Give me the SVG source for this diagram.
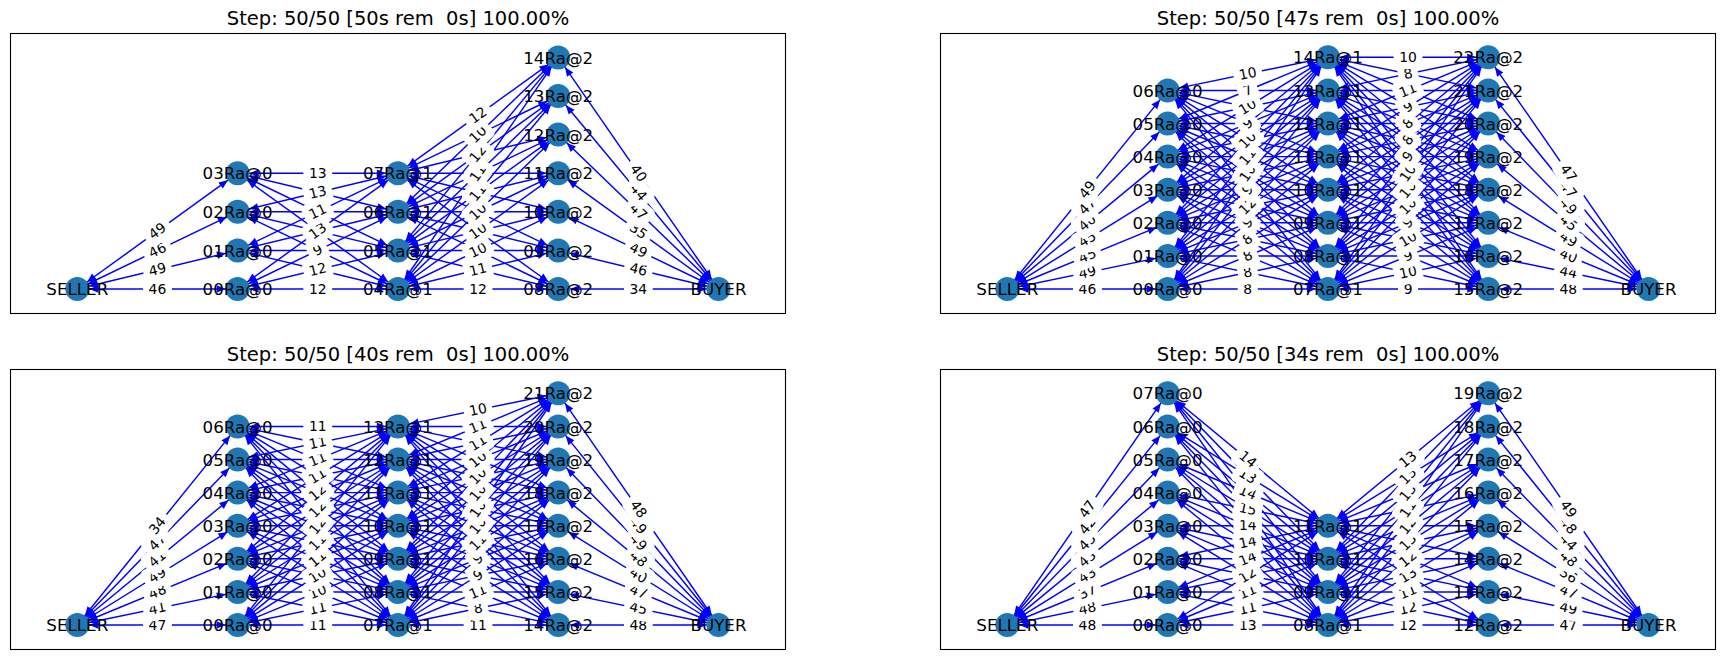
<svg xmlns="http://www.w3.org/2000/svg" xmlns:xlink="http://www.w3.org/1999/xlink" width="1725" height="659" viewBox="0 0 1725 659">
<style>
.t{font-family:"DejaVu Sans",sans-serif;font-size:19.5px;text-anchor:middle;fill:#000}
.e path{fill:none;stroke:#00f;stroke-width:1.45;marker-start:url(#ah);marker-end:url(#ah)}
.n circle{fill:#1f78b4}
.n text{font-family:"DejaVu Sans",sans-serif;font-size:16.7px;text-anchor:middle;fill:#000}
.l text{font-family:"DejaVu Sans",sans-serif;font-size:13.9px;text-anchor:middle;fill:#000}
.f{fill:none;stroke:#000;stroke-width:1.1}
</style>
<defs>
<marker id="ah" viewBox="-12 -6 26 12" refX="12" refY="0" markerWidth="26" markerHeight="12" markerUnits="userSpaceOnUse" orient="auto-start-reverse" overflow="visible"><path d="M0,0 L-9,-3.8 L-9,3.8 z" fill="#00f"/></marker>
<rect id="b2" x="-13.7" y="-11" width="27.4" height="22" rx="4" fill="#fff" stroke="#fff" stroke-width="1.4"/>
<rect id="b1" x="-9.3" y="-11" width="18.6" height="22" rx="4" fill="#fff" stroke="#fff" stroke-width="1.4"/>
</defs>
<rect width="1725" height="659" fill="#fff"/>

<!-- ===== Panel 1 ===== -->
<g id="panel1">
<text class="t" x="398" y="25" xml:space="preserve">Step: 50/50 [50s rem  0s] 100.00%</text>
<g id="p1-edges" class="e">
<path d="M77.3 289L237.6 289"/><path d="M77.3 289L237.6 250.4"/><path d="M77.3 289L237.6 211.8"/><path d="M77.3 289L237.6 173.2"/>
<path d="M237.6 289L397.9 289"/><path d="M237.6 289L397.9 250.4"/><path d="M237.6 289L397.9 211.8"/><path d="M237.6 289L397.9 173.2"/>
<path d="M237.6 250.4L397.9 289"/><path d="M237.6 250.4L397.9 250.4"/><path d="M237.6 250.4L397.9 211.8"/><path d="M237.6 250.4L397.9 173.2"/>
<path d="M237.6 211.8L397.9 289"/><path d="M237.6 211.8L397.9 250.4"/><path d="M237.6 211.8L397.9 211.8"/><path d="M237.6 211.8L397.9 173.2"/>
<path d="M237.6 173.2L397.9 289"/><path d="M237.6 173.2L397.9 250.4"/><path d="M237.6 173.2L397.9 211.8"/><path d="M237.6 173.2L397.9 173.2"/>
<path d="M397.9 289L558.2 289"/><path d="M397.9 289L558.2 250.4"/><path d="M397.9 289L558.2 211.8"/><path d="M397.9 289L558.2 173.2"/><path d="M397.9 289L558.2 134.6"/><path d="M397.9 289L558.2 96"/><path d="M397.9 289L558.2 57.4"/>
<path d="M397.9 250.4L558.2 289"/><path d="M397.9 250.4L558.2 250.4"/><path d="M397.9 250.4L558.2 211.8"/><path d="M397.9 250.4L558.2 173.2"/><path d="M397.9 250.4L558.2 134.6"/><path d="M397.9 250.4L558.2 96"/><path d="M397.9 250.4L558.2 57.4"/>
<path d="M397.9 211.8L558.2 289"/><path d="M397.9 211.8L558.2 250.4"/><path d="M397.9 211.8L558.2 211.8"/><path d="M397.9 211.8L558.2 173.2"/><path d="M397.9 211.8L558.2 134.6"/><path d="M397.9 211.8L558.2 96"/><path d="M397.9 211.8L558.2 57.4"/>
<path d="M397.9 173.2L558.2 289"/><path d="M397.9 173.2L558.2 250.4"/><path d="M397.9 173.2L558.2 211.8"/><path d="M397.9 173.2L558.2 173.2"/><path d="M397.9 173.2L558.2 134.6"/><path d="M397.9 173.2L558.2 96"/><path d="M397.9 173.2L558.2 57.4"/>
<path d="M558.2 289L718.5 289"/><path d="M558.2 250.4L718.5 289"/><path d="M558.2 211.8L718.5 289"/><path d="M558.2 173.2L718.5 289"/><path d="M558.2 134.6L718.5 289"/><path d="M558.2 96L718.5 289"/><path d="M558.2 57.4L718.5 289"/>
</g>
<g id="p1-SELLER" class="n"><circle cx="77.3" cy="289" r="12"/><text x="77.3" y="295.1">SELLER</text></g>
<g id="p1-00" class="n"><circle cx="237.6" cy="289" r="12"/><text x="237.6" y="295.1">00Ra@0</text></g>
<g id="p1-01" class="n"><circle cx="237.6" cy="250.4" r="12"/><text x="237.6" y="256.5">01Ra@0</text></g>
<g id="p1-02" class="n"><circle cx="237.6" cy="211.8" r="12"/><text x="237.6" y="217.9">02Ra@0</text></g>
<g id="p1-03" class="n"><circle cx="237.6" cy="173.2" r="12"/><text x="237.6" y="179.3">03Ra@0</text></g>
<g id="p1-04" class="n"><circle cx="397.9" cy="289" r="12"/><text x="397.9" y="295.1">04Ra@1</text></g>
<g id="p1-05" class="n"><circle cx="397.9" cy="250.4" r="12"/><text x="397.9" y="256.5">05Ra@1</text></g>
<g id="p1-06" class="n"><circle cx="397.9" cy="211.8" r="12"/><text x="397.9" y="217.9">06Ra@1</text></g>
<g id="p1-07" class="n"><circle cx="397.9" cy="173.2" r="12"/><text x="397.9" y="179.3">07Ra@1</text></g>
<g id="p1-08" class="n"><circle cx="558.2" cy="289" r="12"/><text x="558.2" y="295.1">08Ra@2</text></g>
<g id="p1-09" class="n"><circle cx="558.2" cy="250.4" r="12"/><text x="558.2" y="256.5">09Ra@2</text></g>
<g id="p1-10" class="n"><circle cx="558.2" cy="211.8" r="12"/><text x="558.2" y="217.9">10Ra@2</text></g>
<g id="p1-11" class="n"><circle cx="558.2" cy="173.2" r="12"/><text x="558.2" y="179.3">11Ra@2</text></g>
<g id="p1-12" class="n"><circle cx="558.2" cy="134.6" r="12"/><text x="558.2" y="140.7">12Ra@2</text></g>
<g id="p1-13" class="n"><circle cx="558.2" cy="96" r="12"/><text x="558.2" y="102.1">13Ra@2</text></g>
<g id="p1-14" class="n"><circle cx="558.2" cy="57.4" r="12"/><text x="558.2" y="63.5">14Ra@2</text></g>
<g id="p1-BUYER" class="n"><circle cx="718.5" cy="289" r="12"/><text x="718.5" y="295.1">BUYER</text></g>
<g id="p1-labels" class="l">
<g transform="translate(157.45 289)"><use href="#b2"/><text y="4.5">46</text></g>
<g transform="translate(157.45 269.7) rotate(-13.54)"><use href="#b2"/><text y="4.5">49</text></g>
<g transform="translate(157.45 250.4) rotate(-25.71)"><use href="#b2"/><text y="4.5">46</text></g>
<g transform="translate(157.45 231.1) rotate(-35.84)"><use href="#b2"/><text y="4.5">49</text></g>
<g transform="translate(317.75 289)"><use href="#b2"/><text y="4.5">12</text></g>
<g transform="translate(317.75 269.7) rotate(-13.54)"><use href="#b2"/><text y="4.5">12</text></g>
<g transform="translate(317.75 250.4) rotate(-25.71)"><use href="#b1"/><text y="4.5">9</text></g>
<g transform="translate(317.75 231.1) rotate(-35.84)"><use href="#b2"/><text y="4.5">13</text></g>
<g transform="translate(317.75 211.8) rotate(-25.71)"><use href="#b2"/><text y="4.5">11</text></g>
<g transform="translate(317.75 192.5) rotate(-13.54)"><use href="#b2"/><text y="4.5">13</text></g>
<g transform="translate(317.75 173.2)"><use href="#b2"/><text y="4.5">13</text></g>
<g transform="translate(478.05 289)"><use href="#b2"/><text y="4.5">12</text></g>
<g transform="translate(478.05 269.7) rotate(-13.54)"><use href="#b2"/><text y="4.5">11</text></g>
<g transform="translate(478.05 250.4) rotate(-25.71)"><use href="#b2"/><text y="4.5">10</text></g>
<g transform="translate(478.05 231.1) rotate(-35.84)"><use href="#b2"/><text y="4.5">10</text></g>
<g transform="translate(478.05 211.8) rotate(-43.93)"><use href="#b2"/><text y="4.5">10</text></g>
<g transform="translate(478.05 192.5) rotate(-50.29)"><use href="#b2"/><text y="4.5">11</text></g>
<g transform="translate(478.05 173.2) rotate(-55.32)"><use href="#b2"/><text y="4.5">11</text></g>
<g transform="translate(478.05 153.9) rotate(-50.29)"><use href="#b2"/><text y="4.5">12</text></g>
<g transform="translate(478.05 134.6) rotate(-43.93)"><use href="#b2"/><text y="4.5">10</text></g>
<g transform="translate(478.05 115.3) rotate(-35.84)"><use href="#b2"/><text y="4.5">12</text></g>
<g transform="translate(638.35 289)"><use href="#b2"/><text y="4.5">34</text></g>
<g transform="translate(638.35 269.7) rotate(13.54)"><use href="#b2"/><text y="4.5">46</text></g>
<g transform="translate(638.35 250.4) rotate(25.71)"><use href="#b2"/><text y="4.5">49</text></g>
<g transform="translate(638.35 231.1) rotate(35.84)"><use href="#b2"/><text y="4.5">35</text></g>
<g transform="translate(638.35 211.8) rotate(43.93)"><use href="#b2"/><text y="4.5">47</text></g>
<g transform="translate(638.35 192.5) rotate(50.29)"><use href="#b2"/><text y="4.5">44</text></g>
<g transform="translate(638.35 173.2) rotate(55.32)"><use href="#b2"/><text y="4.5">40</text></g>
</g>
<rect class="f" x="10.5" y="33.5" width="775" height="280"/>
</g>

<!-- ===== Panel 2 ===== -->
<g id="panel2" transform="translate(930 0)">
<text class="t" x="398" y="25" xml:space="preserve">Step: 50/50 [47s rem  0s] 100.00%</text>
<g id="p2-edges" class="e">
<path d="M77.3 289L237.6 289"/><path d="M77.3 289L237.6 255.9"/><path d="M77.3 289L237.6 222.8"/><path d="M77.3 289L237.6 189.7"/><path d="M77.3 289L237.6 156.6"/><path d="M77.3 289L237.6 123.5"/><path d="M77.3 289L237.6 90.4"/>
<path d="M237.6 289L397.9 289"/><path d="M237.6 289L397.9 255.9"/><path d="M237.6 289L397.9 222.8"/><path d="M237.6 289L397.9 189.7"/><path d="M237.6 289L397.9 156.6"/><path d="M237.6 289L397.9 123.5"/><path d="M237.6 289L397.9 90.4"/><path d="M237.6 289L397.9 57.3"/>
<path d="M237.6 255.9L397.9 289"/><path d="M237.6 255.9L397.9 255.9"/><path d="M237.6 255.9L397.9 222.8"/><path d="M237.6 255.9L397.9 189.7"/><path d="M237.6 255.9L397.9 156.6"/><path d="M237.6 255.9L397.9 123.5"/><path d="M237.6 255.9L397.9 90.4"/><path d="M237.6 255.9L397.9 57.3"/>
<path d="M237.6 222.8L397.9 289"/><path d="M237.6 222.8L397.9 255.9"/><path d="M237.6 222.8L397.9 222.8"/><path d="M237.6 222.8L397.9 189.7"/><path d="M237.6 222.8L397.9 156.6"/><path d="M237.6 222.8L397.9 123.5"/><path d="M237.6 222.8L397.9 90.4"/><path d="M237.6 222.8L397.9 57.3"/>
<path d="M237.6 189.7L397.9 289"/><path d="M237.6 189.7L397.9 255.9"/><path d="M237.6 189.7L397.9 222.8"/><path d="M237.6 189.7L397.9 189.7"/><path d="M237.6 189.7L397.9 156.6"/><path d="M237.6 189.7L397.9 123.5"/><path d="M237.6 189.7L397.9 90.4"/><path d="M237.6 189.7L397.9 57.3"/>
<path d="M237.6 156.6L397.9 289"/><path d="M237.6 156.6L397.9 255.9"/><path d="M237.6 156.6L397.9 222.8"/><path d="M237.6 156.6L397.9 189.7"/><path d="M237.6 156.6L397.9 156.6"/><path d="M237.6 156.6L397.9 123.5"/><path d="M237.6 156.6L397.9 90.4"/><path d="M237.6 156.6L397.9 57.3"/>
<path d="M237.6 123.5L397.9 289"/><path d="M237.6 123.5L397.9 255.9"/><path d="M237.6 123.5L397.9 222.8"/><path d="M237.6 123.5L397.9 189.7"/><path d="M237.6 123.5L397.9 156.6"/><path d="M237.6 123.5L397.9 123.5"/><path d="M237.6 123.5L397.9 90.4"/><path d="M237.6 123.5L397.9 57.3"/>
<path d="M237.6 90.4L397.9 289"/><path d="M237.6 90.4L397.9 255.9"/><path d="M237.6 90.4L397.9 222.8"/><path d="M237.6 90.4L397.9 189.7"/><path d="M237.6 90.4L397.9 156.6"/><path d="M237.6 90.4L397.9 123.5"/><path d="M237.6 90.4L397.9 90.4"/><path d="M237.6 90.4L397.9 57.3"/>
<path d="M397.9 289L558.2 289"/><path d="M397.9 289L558.2 255.9"/><path d="M397.9 289L558.2 222.8"/><path d="M397.9 289L558.2 189.7"/><path d="M397.9 289L558.2 156.6"/><path d="M397.9 289L558.2 123.5"/><path d="M397.9 289L558.2 90.4"/><path d="M397.9 289L558.2 57.3"/>
<path d="M397.9 255.9L558.2 289"/><path d="M397.9 255.9L558.2 255.9"/><path d="M397.9 255.9L558.2 222.8"/><path d="M397.9 255.9L558.2 189.7"/><path d="M397.9 255.9L558.2 156.6"/><path d="M397.9 255.9L558.2 123.5"/><path d="M397.9 255.9L558.2 90.4"/><path d="M397.9 255.9L558.2 57.3"/>
<path d="M397.9 222.8L558.2 289"/><path d="M397.9 222.8L558.2 255.9"/><path d="M397.9 222.8L558.2 222.8"/><path d="M397.9 222.8L558.2 189.7"/><path d="M397.9 222.8L558.2 156.6"/><path d="M397.9 222.8L558.2 123.5"/><path d="M397.9 222.8L558.2 90.4"/><path d="M397.9 222.8L558.2 57.3"/>
<path d="M397.9 189.7L558.2 289"/><path d="M397.9 189.7L558.2 255.9"/><path d="M397.9 189.7L558.2 222.8"/><path d="M397.9 189.7L558.2 189.7"/><path d="M397.9 189.7L558.2 156.6"/><path d="M397.9 189.7L558.2 123.5"/><path d="M397.9 189.7L558.2 90.4"/><path d="M397.9 189.7L558.2 57.3"/>
<path d="M397.9 156.6L558.2 289"/><path d="M397.9 156.6L558.2 255.9"/><path d="M397.9 156.6L558.2 222.8"/><path d="M397.9 156.6L558.2 189.7"/><path d="M397.9 156.6L558.2 156.6"/><path d="M397.9 156.6L558.2 123.5"/><path d="M397.9 156.6L558.2 90.4"/><path d="M397.9 156.6L558.2 57.3"/>
<path d="M397.9 123.5L558.2 289"/><path d="M397.9 123.5L558.2 255.9"/><path d="M397.9 123.5L558.2 222.8"/><path d="M397.9 123.5L558.2 189.7"/><path d="M397.9 123.5L558.2 156.6"/><path d="M397.9 123.5L558.2 123.5"/><path d="M397.9 123.5L558.2 90.4"/><path d="M397.9 123.5L558.2 57.3"/>
<path d="M397.9 90.4L558.2 289"/><path d="M397.9 90.4L558.2 255.9"/><path d="M397.9 90.4L558.2 222.8"/><path d="M397.9 90.4L558.2 189.7"/><path d="M397.9 90.4L558.2 156.6"/><path d="M397.9 90.4L558.2 123.5"/><path d="M397.9 90.4L558.2 90.4"/><path d="M397.9 90.4L558.2 57.3"/>
<path d="M397.9 57.3L558.2 289"/><path d="M397.9 57.3L558.2 255.9"/><path d="M397.9 57.3L558.2 222.8"/><path d="M397.9 57.3L558.2 189.7"/><path d="M397.9 57.3L558.2 156.6"/><path d="M397.9 57.3L558.2 123.5"/><path d="M397.9 57.3L558.2 90.4"/><path d="M397.9 57.3L558.2 57.3"/>
<path d="M558.2 289L718.5 289"/><path d="M558.2 255.9L718.5 289"/><path d="M558.2 222.8L718.5 289"/><path d="M558.2 189.7L718.5 289"/><path d="M558.2 156.6L718.5 289"/><path d="M558.2 123.5L718.5 289"/><path d="M558.2 90.4L718.5 289"/><path d="M558.2 57.3L718.5 289"/>
</g>
<g id="p2-SELLER" class="n"><circle cx="77.3" cy="289" r="12"/><text x="77.3" y="295.1">SELLER</text></g>
<g id="p2-00" class="n"><circle cx="237.6" cy="289" r="12"/><text x="237.6" y="295.1">00Ra@0</text></g>
<g id="p2-01" class="n"><circle cx="237.6" cy="255.9" r="12"/><text x="237.6" y="262">01Ra@0</text></g>
<g id="p2-02" class="n"><circle cx="237.6" cy="222.8" r="12"/><text x="237.6" y="228.9">02Ra@0</text></g>
<g id="p2-03" class="n"><circle cx="237.6" cy="189.7" r="12"/><text x="237.6" y="195.8">03Ra@0</text></g>
<g id="p2-04" class="n"><circle cx="237.6" cy="156.6" r="12"/><text x="237.6" y="162.7">04Ra@0</text></g>
<g id="p2-05" class="n"><circle cx="237.6" cy="123.5" r="12"/><text x="237.6" y="129.6">05Ra@0</text></g>
<g id="p2-06" class="n"><circle cx="237.6" cy="90.4" r="12"/><text x="237.6" y="96.5">06Ra@0</text></g>
<g id="p2-07" class="n"><circle cx="397.9" cy="289" r="12"/><text x="397.9" y="295.1">07Ra@1</text></g>
<g id="p2-08" class="n"><circle cx="397.9" cy="255.9" r="12"/><text x="397.9" y="262">08Ra@1</text></g>
<g id="p2-09" class="n"><circle cx="397.9" cy="222.8" r="12"/><text x="397.9" y="228.9">09Ra@1</text></g>
<g id="p2-10" class="n"><circle cx="397.9" cy="189.7" r="12"/><text x="397.9" y="195.8">10Ra@1</text></g>
<g id="p2-11" class="n"><circle cx="397.9" cy="156.6" r="12"/><text x="397.9" y="162.7">11Ra@1</text></g>
<g id="p2-12" class="n"><circle cx="397.9" cy="123.5" r="12"/><text x="397.9" y="129.6">12Ra@1</text></g>
<g id="p2-13" class="n"><circle cx="397.9" cy="90.4" r="12"/><text x="397.9" y="96.5">13Ra@1</text></g>
<g id="p2-14" class="n"><circle cx="397.9" cy="57.3" r="12"/><text x="397.9" y="63.4">14Ra@1</text></g>
<g id="p2-15" class="n"><circle cx="558.2" cy="289" r="12"/><text x="558.2" y="295.1">15Ra@2</text></g>
<g id="p2-16" class="n"><circle cx="558.2" cy="255.9" r="12"/><text x="558.2" y="262">16Ra@2</text></g>
<g id="p2-17" class="n"><circle cx="558.2" cy="222.8" r="12"/><text x="558.2" y="228.9">17Ra@2</text></g>
<g id="p2-18" class="n"><circle cx="558.2" cy="189.7" r="12"/><text x="558.2" y="195.8">18Ra@2</text></g>
<g id="p2-19" class="n"><circle cx="558.2" cy="156.6" r="12"/><text x="558.2" y="162.7">19Ra@2</text></g>
<g id="p2-20" class="n"><circle cx="558.2" cy="123.5" r="12"/><text x="558.2" y="129.6">20Ra@2</text></g>
<g id="p2-21" class="n"><circle cx="558.2" cy="90.4" r="12"/><text x="558.2" y="96.5">21Ra@2</text></g>
<g id="p2-22" class="n"><circle cx="558.2" cy="57.3" r="12"/><text x="558.2" y="63.4">22Ra@2</text></g>
<g id="p2-BUYER" class="n"><circle cx="718.5" cy="289" r="12"/><text x="718.5" y="295.1">BUYER</text></g>
<g id="p2-labels" class="l">
<g transform="translate(157.45 289)"><use href="#b2"/><text y="4.5">46</text></g>
<g transform="translate(157.45 272.45) rotate(-11.67)"><use href="#b2"/><text y="4.5">49</text></g>
<g transform="translate(157.45 255.9) rotate(-22.44)"><use href="#b2"/><text y="4.5">45</text></g>
<g transform="translate(157.45 239.35) rotate(-31.78)"><use href="#b2"/><text y="4.5">45</text></g>
<g transform="translate(157.45 222.8) rotate(-39.56)"><use href="#b2"/><text y="4.5">40</text></g>
<g transform="translate(157.45 206.25) rotate(-45.92)"><use href="#b2"/><text y="4.5">47</text></g>
<g transform="translate(157.45 189.7) rotate(-51.09)"><use href="#b2"/><text y="4.5">49</text></g>
<g transform="translate(317.75 289)"><use href="#b1"/><text y="4.5">8</text></g>
<g transform="translate(317.75 272.45) rotate(-11.67)"><use href="#b1"/><text y="4.5">8</text></g>
<g transform="translate(317.75 255.9) rotate(-22.44)"><use href="#b1"/><text y="4.5">8</text></g>
<g transform="translate(317.75 239.35) rotate(-31.78)"><use href="#b1"/><text y="4.5">8</text></g>
<g transform="translate(317.75 222.8) rotate(-39.56)"><use href="#b1"/><text y="4.5">9</text></g>
<g transform="translate(317.75 206.25) rotate(-45.92)"><use href="#b2"/><text y="4.5">12</text></g>
<g transform="translate(317.75 189.7) rotate(-51.09)"><use href="#b1"/><text y="4.5">9</text></g>
<g transform="translate(317.75 173.15) rotate(-55.32)"><use href="#b2"/><text y="4.5">10</text></g>
<g transform="translate(317.75 156.6) rotate(-51.09)"><use href="#b2"/><text y="4.5">11</text></g>
<g transform="translate(317.75 140.05) rotate(-45.92)"><use href="#b2"/><text y="4.5">10</text></g>
<g transform="translate(317.75 123.5) rotate(-39.56)"><use href="#b1"/><text y="4.5">9</text></g>
<g transform="translate(317.75 106.95) rotate(-31.78)"><use href="#b2"/><text y="4.5">10</text></g>
<g transform="translate(317.75 90.4) rotate(-22.44)"><use href="#b1"/><text y="4.5">7</text></g>
<g transform="translate(317.75 73.85) rotate(-11.67)"><use href="#b2"/><text y="4.5">10</text></g>
<g transform="translate(478.05 289)"><use href="#b1"/><text y="4.5">9</text></g>
<g transform="translate(478.05 272.45) rotate(-11.67)"><use href="#b2"/><text y="4.5">10</text></g>
<g transform="translate(478.05 255.9) rotate(-22.44)"><use href="#b1"/><text y="4.5">9</text></g>
<g transform="translate(478.05 239.35) rotate(-31.78)"><use href="#b2"/><text y="4.5">10</text></g>
<g transform="translate(478.05 222.8) rotate(-39.56)"><use href="#b1"/><text y="4.5">9</text></g>
<g transform="translate(478.05 206.25) rotate(-45.92)"><use href="#b2"/><text y="4.5">10</text></g>
<g transform="translate(478.05 189.7) rotate(-51.09)"><use href="#b2"/><text y="4.5">10</text></g>
<g transform="translate(478.05 173.15) rotate(-55.32)"><use href="#b2"/><text y="4.5">10</text></g>
<g transform="translate(478.05 156.6) rotate(-51.09)"><use href="#b1"/><text y="4.5">9</text></g>
<g transform="translate(478.05 140.05) rotate(-45.92)"><use href="#b1"/><text y="4.5">8</text></g>
<g transform="translate(478.05 123.5) rotate(-39.56)"><use href="#b1"/><text y="4.5">8</text></g>
<g transform="translate(478.05 106.95) rotate(-31.78)"><use href="#b1"/><text y="4.5">9</text></g>
<g transform="translate(478.05 90.4) rotate(-22.44)"><use href="#b2"/><text y="4.5">11</text></g>
<g transform="translate(478.05 73.85) rotate(-11.67)"><use href="#b1"/><text y="4.5">8</text></g>
<g transform="translate(478.05 57.3)"><use href="#b2"/><text y="4.5">10</text></g>
<g transform="translate(638.35 289)"><use href="#b2"/><text y="4.5">48</text></g>
<g transform="translate(638.35 272.45) rotate(11.67)"><use href="#b2"/><text y="4.5">44</text></g>
<g transform="translate(638.35 255.9) rotate(22.44)"><use href="#b2"/><text y="4.5">40</text></g>
<g transform="translate(638.35 239.35) rotate(31.78)"><use href="#b2"/><text y="4.5">49</text></g>
<g transform="translate(638.35 222.8) rotate(39.56)"><use href="#b2"/><text y="4.5">45</text></g>
<g transform="translate(638.35 206.25) rotate(45.92)"><use href="#b2"/><text y="4.5">49</text></g>
<g transform="translate(638.35 189.7) rotate(51.09)"><use href="#b2"/><text y="4.5">47</text></g>
<g transform="translate(638.35 173.15) rotate(55.32)"><use href="#b2"/><text y="4.5">47</text></g>
</g>
<rect class="f" x="10.5" y="33.5" width="775" height="280"/>
</g>

<!-- ===== Panel 3 ===== -->
<g id="panel3" transform="translate(0 336)">
<text class="t" x="398" y="25" xml:space="preserve">Step: 50/50 [40s rem  0s] 100.00%</text>
<g id="p3-edges" class="e">
<path d="M77.3 289L237.6 289"/><path d="M77.3 289L237.6 255.9"/><path d="M77.3 289L237.6 222.8"/><path d="M77.3 289L237.6 189.7"/><path d="M77.3 289L237.6 156.6"/><path d="M77.3 289L237.6 123.5"/><path d="M77.3 289L237.6 90.4"/>
<path d="M237.6 289L397.9 289"/><path d="M237.6 289L397.9 255.9"/><path d="M237.6 289L397.9 222.8"/><path d="M237.6 289L397.9 189.7"/><path d="M237.6 289L397.9 156.6"/><path d="M237.6 289L397.9 123.5"/><path d="M237.6 289L397.9 90.4"/>
<path d="M237.6 255.9L397.9 289"/><path d="M237.6 255.9L397.9 255.9"/><path d="M237.6 255.9L397.9 222.8"/><path d="M237.6 255.9L397.9 189.7"/><path d="M237.6 255.9L397.9 156.6"/><path d="M237.6 255.9L397.9 123.5"/><path d="M237.6 255.9L397.9 90.4"/>
<path d="M237.6 222.8L397.9 289"/><path d="M237.6 222.8L397.9 255.9"/><path d="M237.6 222.8L397.9 222.8"/><path d="M237.6 222.8L397.9 189.7"/><path d="M237.6 222.8L397.9 156.6"/><path d="M237.6 222.8L397.9 123.5"/><path d="M237.6 222.8L397.9 90.4"/>
<path d="M237.6 189.7L397.9 289"/><path d="M237.6 189.7L397.9 255.9"/><path d="M237.6 189.7L397.9 222.8"/><path d="M237.6 189.7L397.9 189.7"/><path d="M237.6 189.7L397.9 156.6"/><path d="M237.6 189.7L397.9 123.5"/><path d="M237.6 189.7L397.9 90.4"/>
<path d="M237.6 156.6L397.9 289"/><path d="M237.6 156.6L397.9 255.9"/><path d="M237.6 156.6L397.9 222.8"/><path d="M237.6 156.6L397.9 189.7"/><path d="M237.6 156.6L397.9 156.6"/><path d="M237.6 156.6L397.9 123.5"/><path d="M237.6 156.6L397.9 90.4"/>
<path d="M237.6 123.5L397.9 289"/><path d="M237.6 123.5L397.9 255.9"/><path d="M237.6 123.5L397.9 222.8"/><path d="M237.6 123.5L397.9 189.7"/><path d="M237.6 123.5L397.9 156.6"/><path d="M237.6 123.5L397.9 123.5"/><path d="M237.6 123.5L397.9 90.4"/>
<path d="M237.6 90.4L397.9 289"/><path d="M237.6 90.4L397.9 255.9"/><path d="M237.6 90.4L397.9 222.8"/><path d="M237.6 90.4L397.9 189.7"/><path d="M237.6 90.4L397.9 156.6"/><path d="M237.6 90.4L397.9 123.5"/><path d="M237.6 90.4L397.9 90.4"/>
<path d="M397.9 289L558.2 289"/><path d="M397.9 289L558.2 255.9"/><path d="M397.9 289L558.2 222.8"/><path d="M397.9 289L558.2 189.7"/><path d="M397.9 289L558.2 156.6"/><path d="M397.9 289L558.2 123.5"/><path d="M397.9 289L558.2 90.4"/><path d="M397.9 289L558.2 57.3"/>
<path d="M397.9 255.9L558.2 289"/><path d="M397.9 255.9L558.2 255.9"/><path d="M397.9 255.9L558.2 222.8"/><path d="M397.9 255.9L558.2 189.7"/><path d="M397.9 255.9L558.2 156.6"/><path d="M397.9 255.9L558.2 123.5"/><path d="M397.9 255.9L558.2 90.4"/><path d="M397.9 255.9L558.2 57.3"/>
<path d="M397.9 222.8L558.2 289"/><path d="M397.9 222.8L558.2 255.9"/><path d="M397.9 222.8L558.2 222.8"/><path d="M397.9 222.8L558.2 189.7"/><path d="M397.9 222.8L558.2 156.6"/><path d="M397.9 222.8L558.2 123.5"/><path d="M397.9 222.8L558.2 90.4"/><path d="M397.9 222.8L558.2 57.3"/>
<path d="M397.9 189.7L558.2 289"/><path d="M397.9 189.7L558.2 255.9"/><path d="M397.9 189.7L558.2 222.8"/><path d="M397.9 189.7L558.2 189.7"/><path d="M397.9 189.7L558.2 156.6"/><path d="M397.9 189.7L558.2 123.5"/><path d="M397.9 189.7L558.2 90.4"/><path d="M397.9 189.7L558.2 57.3"/>
<path d="M397.9 156.6L558.2 289"/><path d="M397.9 156.6L558.2 255.9"/><path d="M397.9 156.6L558.2 222.8"/><path d="M397.9 156.6L558.2 189.7"/><path d="M397.9 156.6L558.2 156.6"/><path d="M397.9 156.6L558.2 123.5"/><path d="M397.9 156.6L558.2 90.4"/><path d="M397.9 156.6L558.2 57.3"/>
<path d="M397.9 123.5L558.2 289"/><path d="M397.9 123.5L558.2 255.9"/><path d="M397.9 123.5L558.2 222.8"/><path d="M397.9 123.5L558.2 189.7"/><path d="M397.9 123.5L558.2 156.6"/><path d="M397.9 123.5L558.2 123.5"/><path d="M397.9 123.5L558.2 90.4"/><path d="M397.9 123.5L558.2 57.3"/>
<path d="M397.9 90.4L558.2 289"/><path d="M397.9 90.4L558.2 255.9"/><path d="M397.9 90.4L558.2 222.8"/><path d="M397.9 90.4L558.2 189.7"/><path d="M397.9 90.4L558.2 156.6"/><path d="M397.9 90.4L558.2 123.5"/><path d="M397.9 90.4L558.2 90.4"/><path d="M397.9 90.4L558.2 57.3"/>
<path d="M558.2 289L718.5 289"/><path d="M558.2 255.9L718.5 289"/><path d="M558.2 222.8L718.5 289"/><path d="M558.2 189.7L718.5 289"/><path d="M558.2 156.6L718.5 289"/><path d="M558.2 123.5L718.5 289"/><path d="M558.2 90.4L718.5 289"/><path d="M558.2 57.3L718.5 289"/>
</g>
<g id="p3-SELLER" class="n"><circle cx="77.3" cy="289" r="12"/><text x="77.3" y="295.1">SELLER</text></g>
<g id="p3-00" class="n"><circle cx="237.6" cy="289" r="12"/><text x="237.6" y="295.1">00Ra@0</text></g>
<g id="p3-01" class="n"><circle cx="237.6" cy="255.9" r="12"/><text x="237.6" y="262">01Ra@0</text></g>
<g id="p3-02" class="n"><circle cx="237.6" cy="222.8" r="12"/><text x="237.6" y="228.9">02Ra@0</text></g>
<g id="p3-03" class="n"><circle cx="237.6" cy="189.7" r="12"/><text x="237.6" y="195.8">03Ra@0</text></g>
<g id="p3-04" class="n"><circle cx="237.6" cy="156.6" r="12"/><text x="237.6" y="162.7">04Ra@0</text></g>
<g id="p3-05" class="n"><circle cx="237.6" cy="123.5" r="12"/><text x="237.6" y="129.6">05Ra@0</text></g>
<g id="p3-06" class="n"><circle cx="237.6" cy="90.4" r="12"/><text x="237.6" y="96.5">06Ra@0</text></g>
<g id="p3-07" class="n"><circle cx="397.9" cy="289" r="12"/><text x="397.9" y="295.1">07Ra@1</text></g>
<g id="p3-08" class="n"><circle cx="397.9" cy="255.9" r="12"/><text x="397.9" y="262">08Ra@1</text></g>
<g id="p3-09" class="n"><circle cx="397.9" cy="222.8" r="12"/><text x="397.9" y="228.9">09Ra@1</text></g>
<g id="p3-10" class="n"><circle cx="397.9" cy="189.7" r="12"/><text x="397.9" y="195.8">10Ra@1</text></g>
<g id="p3-11" class="n"><circle cx="397.9" cy="156.6" r="12"/><text x="397.9" y="162.7">11Ra@1</text></g>
<g id="p3-12" class="n"><circle cx="397.9" cy="123.5" r="12"/><text x="397.9" y="129.6">12Ra@1</text></g>
<g id="p3-13" class="n"><circle cx="397.9" cy="90.4" r="12"/><text x="397.9" y="96.5">13Ra@1</text></g>
<g id="p3-14" class="n"><circle cx="558.2" cy="289" r="12"/><text x="558.2" y="295.1">14Ra@2</text></g>
<g id="p3-15" class="n"><circle cx="558.2" cy="255.9" r="12"/><text x="558.2" y="262">15Ra@2</text></g>
<g id="p3-16" class="n"><circle cx="558.2" cy="222.8" r="12"/><text x="558.2" y="228.9">16Ra@2</text></g>
<g id="p3-17" class="n"><circle cx="558.2" cy="189.7" r="12"/><text x="558.2" y="195.8">17Ra@2</text></g>
<g id="p3-18" class="n"><circle cx="558.2" cy="156.6" r="12"/><text x="558.2" y="162.7">18Ra@2</text></g>
<g id="p3-19" class="n"><circle cx="558.2" cy="123.5" r="12"/><text x="558.2" y="129.6">19Ra@2</text></g>
<g id="p3-20" class="n"><circle cx="558.2" cy="90.4" r="12"/><text x="558.2" y="96.5">20Ra@2</text></g>
<g id="p3-21" class="n"><circle cx="558.2" cy="57.3" r="12"/><text x="558.2" y="63.4">21Ra@2</text></g>
<g id="p3-BUYER" class="n"><circle cx="718.5" cy="289" r="12"/><text x="718.5" y="295.1">BUYER</text></g>
<g id="p3-labels" class="l">
<g transform="translate(157.45 289)"><use href="#b2"/><text y="4.5">47</text></g>
<g transform="translate(157.45 272.45) rotate(-11.67)"><use href="#b2"/><text y="4.5">41</text></g>
<g transform="translate(157.45 255.9) rotate(-22.44)"><use href="#b2"/><text y="4.5">48</text></g>
<g transform="translate(157.45 239.35) rotate(-31.78)"><use href="#b2"/><text y="4.5">49</text></g>
<g transform="translate(157.45 222.8) rotate(-39.56)"><use href="#b2"/><text y="4.5">41</text></g>
<g transform="translate(157.45 206.25) rotate(-45.92)"><use href="#b2"/><text y="4.5">47</text></g>
<g transform="translate(157.45 189.7) rotate(-51.09)"><use href="#b2"/><text y="4.5">34</text></g>
<g transform="translate(317.75 289)"><use href="#b2"/><text y="4.5">11</text></g>
<g transform="translate(317.75 272.45) rotate(-11.67)"><use href="#b2"/><text y="4.5">11</text></g>
<g transform="translate(317.75 255.9) rotate(-22.44)"><use href="#b2"/><text y="4.5">10</text></g>
<g transform="translate(317.75 239.35) rotate(-31.78)"><use href="#b2"/><text y="4.5">10</text></g>
<g transform="translate(317.75 222.8) rotate(-39.56)"><use href="#b2"/><text y="4.5">11</text></g>
<g transform="translate(317.75 206.25) rotate(-45.92)"><use href="#b2"/><text y="4.5">11</text></g>
<g transform="translate(317.75 189.7) rotate(-51.09)"><use href="#b2"/><text y="4.5">12</text></g>
<g transform="translate(317.75 173.15) rotate(-45.92)"><use href="#b2"/><text y="4.5">12</text></g>
<g transform="translate(317.75 156.6) rotate(-39.56)"><use href="#b2"/><text y="4.5">12</text></g>
<g transform="translate(317.75 140.05) rotate(-31.78)"><use href="#b2"/><text y="4.5">11</text></g>
<g transform="translate(317.75 123.5) rotate(-22.44)"><use href="#b2"/><text y="4.5">11</text></g>
<g transform="translate(317.75 106.95) rotate(-11.67)"><use href="#b2"/><text y="4.5">11</text></g>
<g transform="translate(317.75 90.4)"><use href="#b2"/><text y="4.5">11</text></g>
<g transform="translate(478.05 289)"><use href="#b2"/><text y="4.5">11</text></g>
<g transform="translate(478.05 272.45) rotate(-11.67)"><use href="#b1"/><text y="4.5">8</text></g>
<g transform="translate(478.05 255.9) rotate(-22.44)"><use href="#b2"/><text y="4.5">11</text></g>
<g transform="translate(478.05 239.35) rotate(-31.78)"><use href="#b1"/><text y="4.5">9</text></g>
<g transform="translate(478.05 222.8) rotate(-39.56)"><use href="#b1"/><text y="4.5">9</text></g>
<g transform="translate(478.05 206.25) rotate(-45.92)"><use href="#b2"/><text y="4.5">11</text></g>
<g transform="translate(478.05 189.7) rotate(-51.09)"><use href="#b2"/><text y="4.5">10</text></g>
<g transform="translate(478.05 173.15) rotate(-55.32)"><use href="#b2"/><text y="4.5">10</text></g>
<g transform="translate(478.05 156.6) rotate(-51.09)"><use href="#b2"/><text y="4.5">10</text></g>
<g transform="translate(478.05 140.05) rotate(-45.92)"><use href="#b2"/><text y="4.5">10</text></g>
<g transform="translate(478.05 123.5) rotate(-39.56)"><use href="#b2"/><text y="4.5">10</text></g>
<g transform="translate(478.05 106.95) rotate(-31.78)"><use href="#b2"/><text y="4.5">11</text></g>
<g transform="translate(478.05 90.4) rotate(-22.44)"><use href="#b2"/><text y="4.5">11</text></g>
<g transform="translate(478.05 73.85) rotate(-11.67)"><use href="#b2"/><text y="4.5">10</text></g>
<g transform="translate(638.35 289)"><use href="#b2"/><text y="4.5">48</text></g>
<g transform="translate(638.35 272.45) rotate(11.67)"><use href="#b2"/><text y="4.5">45</text></g>
<g transform="translate(638.35 255.9) rotate(22.44)"><use href="#b2"/><text y="4.5">47</text></g>
<g transform="translate(638.35 239.35) rotate(31.78)"><use href="#b2"/><text y="4.5">40</text></g>
<g transform="translate(638.35 222.8) rotate(39.56)"><use href="#b2"/><text y="4.5">48</text></g>
<g transform="translate(638.35 206.25) rotate(45.92)"><use href="#b2"/><text y="4.5">49</text></g>
<g transform="translate(638.35 189.7) rotate(51.09)"><use href="#b2"/><text y="4.5">49</text></g>
<g transform="translate(638.35 173.15) rotate(55.32)"><use href="#b2"/><text y="4.5">48</text></g>
</g>
<rect class="f" x="10.5" y="33.5" width="775" height="280"/>
</g>

<!-- ===== Panel 4 ===== -->
<g id="panel4" transform="translate(930 336)">
<text class="t" x="398" y="25" xml:space="preserve">Step: 50/50 [34s rem  0s] 100.00%</text>
<g id="p4-edges" class="e">
<path d="M77.3 289L237.6 289"/><path d="M77.3 289L237.6 255.9"/><path d="M77.3 289L237.6 222.8"/><path d="M77.3 289L237.6 189.7"/><path d="M77.3 289L237.6 156.6"/><path d="M77.3 289L237.6 123.5"/><path d="M77.3 289L237.6 90.4"/><path d="M77.3 289L237.6 57.3"/>
<path d="M237.6 289L397.9 289"/><path d="M237.6 289L397.9 255.9"/><path d="M237.6 289L397.9 222.8"/><path d="M237.6 289L397.9 189.7"/>
<path d="M237.6 255.9L397.9 289"/><path d="M237.6 255.9L397.9 255.9"/><path d="M237.6 255.9L397.9 222.8"/><path d="M237.6 255.9L397.9 189.7"/>
<path d="M237.6 222.8L397.9 289"/><path d="M237.6 222.8L397.9 255.9"/><path d="M237.6 222.8L397.9 222.8"/><path d="M237.6 222.8L397.9 189.7"/>
<path d="M237.6 189.7L397.9 289"/><path d="M237.6 189.7L397.9 255.9"/><path d="M237.6 189.7L397.9 222.8"/><path d="M237.6 189.7L397.9 189.7"/>
<path d="M237.6 156.6L397.9 289"/><path d="M237.6 156.6L397.9 255.9"/><path d="M237.6 156.6L397.9 222.8"/><path d="M237.6 156.6L397.9 189.7"/>
<path d="M237.6 123.5L397.9 289"/><path d="M237.6 123.5L397.9 255.9"/><path d="M237.6 123.5L397.9 222.8"/><path d="M237.6 123.5L397.9 189.7"/>
<path d="M237.6 90.4L397.9 289"/><path d="M237.6 90.4L397.9 255.9"/><path d="M237.6 90.4L397.9 222.8"/><path d="M237.6 90.4L397.9 189.7"/>
<path d="M237.6 57.3L397.9 289"/><path d="M237.6 57.3L397.9 255.9"/><path d="M237.6 57.3L397.9 222.8"/><path d="M237.6 57.3L397.9 189.7"/>
<path d="M397.9 289L558.2 289"/><path d="M397.9 289L558.2 255.9"/><path d="M397.9 289L558.2 222.8"/><path d="M397.9 289L558.2 189.7"/><path d="M397.9 289L558.2 156.6"/><path d="M397.9 289L558.2 123.5"/><path d="M397.9 289L558.2 90.4"/><path d="M397.9 289L558.2 57.3"/>
<path d="M397.9 255.9L558.2 289"/><path d="M397.9 255.9L558.2 255.9"/><path d="M397.9 255.9L558.2 222.8"/><path d="M397.9 255.9L558.2 189.7"/><path d="M397.9 255.9L558.2 156.6"/><path d="M397.9 255.9L558.2 123.5"/><path d="M397.9 255.9L558.2 90.4"/><path d="M397.9 255.9L558.2 57.3"/>
<path d="M397.9 222.8L558.2 289"/><path d="M397.9 222.8L558.2 255.9"/><path d="M397.9 222.8L558.2 222.8"/><path d="M397.9 222.8L558.2 189.7"/><path d="M397.9 222.8L558.2 156.6"/><path d="M397.9 222.8L558.2 123.5"/><path d="M397.9 222.8L558.2 90.4"/><path d="M397.9 222.8L558.2 57.3"/>
<path d="M397.9 189.7L558.2 289"/><path d="M397.9 189.7L558.2 255.9"/><path d="M397.9 189.7L558.2 222.8"/><path d="M397.9 189.7L558.2 189.7"/><path d="M397.9 189.7L558.2 156.6"/><path d="M397.9 189.7L558.2 123.5"/><path d="M397.9 189.7L558.2 90.4"/><path d="M397.9 189.7L558.2 57.3"/>
<path d="M558.2 289L718.5 289"/><path d="M558.2 255.9L718.5 289"/><path d="M558.2 222.8L718.5 289"/><path d="M558.2 189.7L718.5 289"/><path d="M558.2 156.6L718.5 289"/><path d="M558.2 123.5L718.5 289"/><path d="M558.2 90.4L718.5 289"/><path d="M558.2 57.3L718.5 289"/>
</g>
<g id="p4-SELLER" class="n"><circle cx="77.3" cy="289" r="12"/><text x="77.3" y="295.1">SELLER</text></g>
<g id="p4-00" class="n"><circle cx="237.6" cy="289" r="12"/><text x="237.6" y="295.1">00Ra@0</text></g>
<g id="p4-01" class="n"><circle cx="237.6" cy="255.9" r="12"/><text x="237.6" y="262">01Ra@0</text></g>
<g id="p4-02" class="n"><circle cx="237.6" cy="222.8" r="12"/><text x="237.6" y="228.9">02Ra@0</text></g>
<g id="p4-03" class="n"><circle cx="237.6" cy="189.7" r="12"/><text x="237.6" y="195.8">03Ra@0</text></g>
<g id="p4-04" class="n"><circle cx="237.6" cy="156.6" r="12"/><text x="237.6" y="162.7">04Ra@0</text></g>
<g id="p4-05" class="n"><circle cx="237.6" cy="123.5" r="12"/><text x="237.6" y="129.6">05Ra@0</text></g>
<g id="p4-06" class="n"><circle cx="237.6" cy="90.4" r="12"/><text x="237.6" y="96.5">06Ra@0</text></g>
<g id="p4-07" class="n"><circle cx="237.6" cy="57.3" r="12"/><text x="237.6" y="63.4">07Ra@0</text></g>
<g id="p4-08" class="n"><circle cx="397.9" cy="289" r="12"/><text x="397.9" y="295.1">08Ra@1</text></g>
<g id="p4-09" class="n"><circle cx="397.9" cy="255.9" r="12"/><text x="397.9" y="262">09Ra@1</text></g>
<g id="p4-10" class="n"><circle cx="397.9" cy="222.8" r="12"/><text x="397.9" y="228.9">10Ra@1</text></g>
<g id="p4-11" class="n"><circle cx="397.9" cy="189.7" r="12"/><text x="397.9" y="195.8">11Ra@1</text></g>
<g id="p4-12" class="n"><circle cx="558.2" cy="289" r="12"/><text x="558.2" y="295.1">12Ra@2</text></g>
<g id="p4-13" class="n"><circle cx="558.2" cy="255.9" r="12"/><text x="558.2" y="262">13Ra@2</text></g>
<g id="p4-14" class="n"><circle cx="558.2" cy="222.8" r="12"/><text x="558.2" y="228.9">14Ra@2</text></g>
<g id="p4-15" class="n"><circle cx="558.2" cy="189.7" r="12"/><text x="558.2" y="195.8">15Ra@2</text></g>
<g id="p4-16" class="n"><circle cx="558.2" cy="156.6" r="12"/><text x="558.2" y="162.7">16Ra@2</text></g>
<g id="p4-17" class="n"><circle cx="558.2" cy="123.5" r="12"/><text x="558.2" y="129.6">17Ra@2</text></g>
<g id="p4-18" class="n"><circle cx="558.2" cy="90.4" r="12"/><text x="558.2" y="96.5">18Ra@2</text></g>
<g id="p4-19" class="n"><circle cx="558.2" cy="57.3" r="12"/><text x="558.2" y="63.4">19Ra@2</text></g>
<g id="p4-BUYER" class="n"><circle cx="718.5" cy="289" r="12"/><text x="718.5" y="295.1">BUYER</text></g>
<g id="p4-labels" class="l">
<g transform="translate(157.45 289)"><use href="#b2"/><text y="4.5">48</text></g>
<g transform="translate(157.45 272.45) rotate(-11.67)"><use href="#b2"/><text y="4.5">48</text></g>
<g transform="translate(157.45 255.9) rotate(-22.44)"><use href="#b2"/><text y="4.5">37</text></g>
<g transform="translate(157.45 239.35) rotate(-31.78)"><use href="#b2"/><text y="4.5">43</text></g>
<g transform="translate(157.45 222.8) rotate(-39.56)"><use href="#b2"/><text y="4.5">43</text></g>
<g transform="translate(157.45 206.25) rotate(-45.92)"><use href="#b2"/><text y="4.5">45</text></g>
<g transform="translate(157.45 189.7) rotate(-51.09)"><use href="#b2"/><text y="4.5">42</text></g>
<g transform="translate(157.45 173.15) rotate(-55.32)"><use href="#b2"/><text y="4.5">47</text></g>
<g transform="translate(317.75 289)"><use href="#b2"/><text y="4.5">13</text></g>
<g transform="translate(317.75 272.45) rotate(-11.67)"><use href="#b2"/><text y="4.5">11</text></g>
<g transform="translate(317.75 255.9) rotate(-22.44)"><use href="#b2"/><text y="4.5">11</text></g>
<g transform="translate(317.75 239.35) rotate(-31.78)"><use href="#b2"/><text y="4.5">12</text></g>
<g transform="translate(317.75 222.8) rotate(-22.44)"><use href="#b2"/><text y="4.5">14</text></g>
<g transform="translate(317.75 206.25) rotate(-11.67)"><use href="#b2"/><text y="4.5">14</text></g>
<g transform="translate(317.75 189.7)"><use href="#b2"/><text y="4.5">14</text></g>
<g transform="translate(317.75 173.15) rotate(11.67)"><use href="#b2"/><text y="4.5">15</text></g>
<g transform="translate(317.75 156.6) rotate(22.44)"><use href="#b2"/><text y="4.5">14</text></g>
<g transform="translate(317.75 140.05) rotate(31.78)"><use href="#b2"/><text y="4.5">13</text></g>
<g transform="translate(317.75 123.5) rotate(39.56)"><use href="#b2"/><text y="4.5">14</text></g>
<g transform="translate(478.05 289)"><use href="#b2"/><text y="4.5">12</text></g>
<g transform="translate(478.05 272.45) rotate(-11.67)"><use href="#b2"/><text y="4.5">12</text></g>
<g transform="translate(478.05 255.9) rotate(-22.44)"><use href="#b2"/><text y="4.5">11</text></g>
<g transform="translate(478.05 239.35) rotate(-31.78)"><use href="#b2"/><text y="4.5">13</text></g>
<g transform="translate(478.05 222.8) rotate(-39.56)"><use href="#b2"/><text y="4.5">12</text></g>
<g transform="translate(478.05 206.25) rotate(-45.92)"><use href="#b2"/><text y="4.5">13</text></g>
<g transform="translate(478.05 189.7) rotate(-51.09)"><use href="#b2"/><text y="4.5">12</text></g>
<g transform="translate(478.05 173.15) rotate(-55.32)"><use href="#b2"/><text y="4.5">11</text></g>
<g transform="translate(478.05 156.6) rotate(-51.09)"><use href="#b2"/><text y="4.5">13</text></g>
<g transform="translate(478.05 140.05) rotate(-45.92)"><use href="#b2"/><text y="4.5">13</text></g>
<g transform="translate(478.05 123.5) rotate(-39.56)"><use href="#b2"/><text y="4.5">13</text></g>
<g transform="translate(638.35 289)"><use href="#b2"/><text y="4.5">47</text></g>
<g transform="translate(638.35 272.45) rotate(11.67)"><use href="#b2"/><text y="4.5">49</text></g>
<g transform="translate(638.35 255.9) rotate(22.44)"><use href="#b2"/><text y="4.5">47</text></g>
<g transform="translate(638.35 239.35) rotate(31.78)"><use href="#b2"/><text y="4.5">36</text></g>
<g transform="translate(638.35 222.8) rotate(39.56)"><use href="#b2"/><text y="4.5">48</text></g>
<g transform="translate(638.35 206.25) rotate(45.92)"><use href="#b2"/><text y="4.5">44</text></g>
<g transform="translate(638.35 189.7) rotate(51.09)"><use href="#b2"/><text y="4.5">48</text></g>
<g transform="translate(638.35 173.15) rotate(55.32)"><use href="#b2"/><text y="4.5">49</text></g>
</g>
<rect class="f" x="10.5" y="33.5" width="775" height="280"/>
</g>
</svg>
